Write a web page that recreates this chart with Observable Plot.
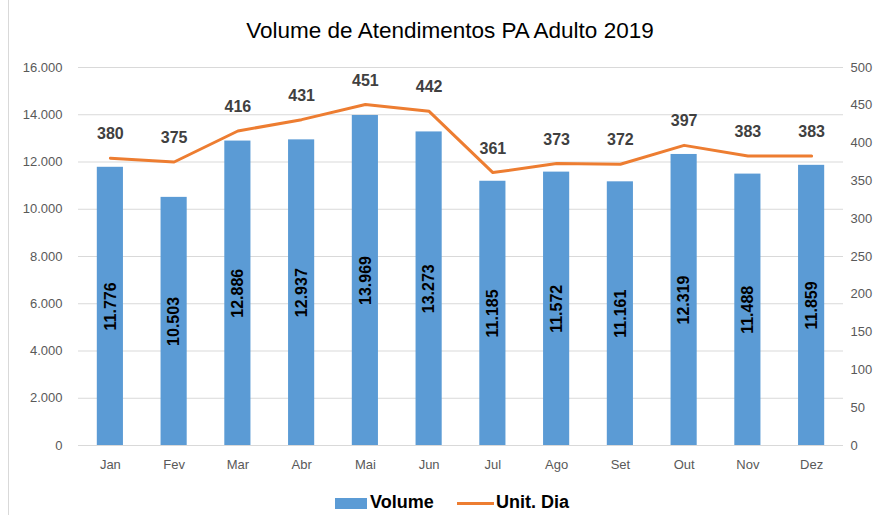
<!DOCTYPE html>
<html>
<head>
<meta charset="utf-8">
<script src="https://cdn.jsdelivr.net/npm/d3@7"></script>
<script src="https://cdn.jsdelivr.net/npm/@observablehq/plot@0.6"></script>
<style>
  html, body { margin: 0; padding: 0; background: #fff; overflow: hidden; }
  #wrap { position: relative; width: 877px; height: 515px; font-family: "Liberation Sans", Arial, sans-serif; }
  #border { position: absolute; left: 8px; top: 0; width: 1px; height: 515px; background: #d9d9d9; }
  #title { position: absolute; left: 0; top: 18px; width: 900px; text-align: center; font-size: 22.5px; color: #000; }
  #chart { position: absolute; left: 0; top: 0; }
  .leg { position: absolute; font-weight: bold; font-size: 18px; color: #000; }
</style>
</head>
<body>
<div id="wrap">
  <div id="border"></div>
  <div id="chart"></div>
  <div id="title">Volume de Atendimentos PA Adulto 2019</div>
  <div id="legend"></div>
</div>
<script>
const months = ["Jan","Fev","Mar","Abr","Mai","Jun","Jul","Ago","Set","Out","Nov","Dez"];
const volume = [11776,10503,12886,12937,13969,13273,11185,11572,11161,12319,11488,11859];
const unitDia = [380,375,416,431,451,442,361,373,372,397,383,383];
const leftTicks = [0,2000,4000,6000,8000,10000,12000,14000,16000];
const rightTicks = [0,50,100,150,200,250,300,350,400,450,500];
const seriesNames = ["Volume","Unit. Dia"];
const colors = ["#5B9BD5","#ED7D31"];

const ratio = 16000/500;
const loc = d3.formatLocale({decimal: ",", thousands: ".", grouping: [3], currency: ["",""]});
const fmt = loc.format(",");

const data = months.map((m,i) => ({m, v: volume[i], u: unitDia[i], uy: unitDia[i]*ratio}));

const chart = Plot.plot({
  width: 877,
  height: 482,
  marginTop: 67,
  marginBottom: 37,
  marginLeft: 78,
  marginRight: 34,
  style: {fontFamily: "Liberation Sans, Arial, sans-serif", fontSize: "13px", color: "#595959", background: "transparent"},
  x: {domain: months, paddingInner: 0.59, paddingOuter: 0.295, round: false, label: null},
  y: {domain: [0,16000], label: null},
  marks: [
    Plot.ruleY(leftTicks, {stroke: "#d9d9d9", strokeWidth: 1}),
    Plot.barY(data, {x: "m", y: "v", fill: colors[0]}),
    Plot.line(data, {x: "m", y: "uy", stroke: colors[1], strokeWidth: 3}),
    Plot.text(data, {x: "m", y: d => d.v/2, text: d => fmt(d.v), rotate: -90, fontWeight: "bold", fontSize: 16, fill: "#000"}),
    Plot.text(data, {x: "m", y: "uy", dy: -24, text: d => String(d.u), fontWeight: "bold", fontSize: 16, fill: "#404040"}),
    Plot.axisX({tickSize: 0, tickPadding: 14, fontSize: 13, fill: "#595959", label: null}),
    Plot.axisY({ticks: leftTicks, tickFormat: fmt, tickSize: 0, tickPadding: 16, fontSize: 13, fill: "#595959", label: null}),
    Plot.axisY({anchor: "right", ticks: rightTicks.map(t => t*ratio), tickFormat: d => String(Math.round(d/ratio)), tickSize: 0, tickPadding: 7, fontSize: 13, fill: "#595959", label: null})
  ]
});
document.getElementById("chart").appendChild(chart);

const legend = document.getElementById("legend");
const sw = document.createElement("div");
sw.style.cssText = `position:absolute;left:335px;top:498px;width:32px;height:11px;background:${colors[0]};`;
legend.appendChild(sw);
const t1 = document.createElement("div");
t1.className = "leg"; t1.style.left = "370px"; t1.style.top = "492px"; t1.textContent = seriesNames[0];
legend.appendChild(t1);
const ln = document.createElement("div");
ln.style.cssText = `position:absolute;left:457px;top:502px;width:37px;height:3px;background:${colors[1]};`;
legend.appendChild(ln);
const t2 = document.createElement("div");
t2.className = "leg"; t2.style.left = "496px"; t2.style.top = "492px"; t2.textContent = seriesNames[1];
legend.appendChild(t2);
</script>
</body>
</html>
